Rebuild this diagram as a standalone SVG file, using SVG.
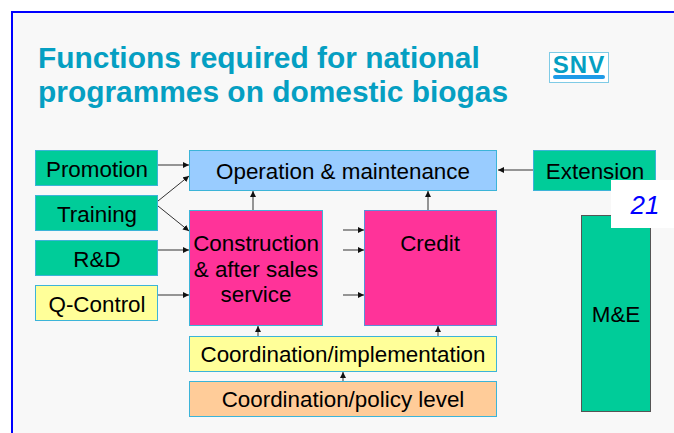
<svg xmlns="http://www.w3.org/2000/svg" width="674" height="433" viewBox="0 0 674 433">
<style>
text{font-family:"Liberation Sans",Arial,sans-serif;fill:#000;text-anchor:middle}
.l{font-size:22.400px}
.t{font-size:29.900px;font-weight:bold;fill:#059fc2;text-anchor:start}
.b{stroke:#3cb4d8;stroke-width:1}
.g{fill:#00cc99}.y{fill:#ffff99}.p{fill:#ff3399}
.c line{stroke:#333;stroke-width:1;marker-end:url(#a)}
</style>
<defs><marker id="a" markerUnits="userSpaceOnUse" markerWidth="7" markerHeight="6" refX="6" refY="3" orient="auto"><path d="M0 0L6 3L0 6z" fill="#111"/></marker></defs>
<rect width="674" height="433" fill="#fff"/>
<rect x="12" y="12" width="662" height="421" fill="#f8f8f8"/>
<path d="M674 12H12V433" fill="none" stroke="#0000ff" stroke-width="2"/>
<text class="t" x="38" y="68">Functions required for national</text>
<text class="t" x="38" y="102">programmes on domestic biogas</text>
<g id="logo"><rect x="549.500" y="52.500" width="59" height="30" fill="#fff" stroke="#7fcbe6"/><text x="579" y="73" style="font-size:24px;font-weight:bold;fill:#059fc2;letter-spacing:1px">SNV</text><rect x="553" y="75" width="52" height="4" rx="2" fill="#1e9be8"/></g>
<g class="c">
<line x1="158" y1="165" x2="189" y2="165"/>
<line x1="158" y1="201" x2="189" y2="176"/>
<line x1="158" y1="206" x2="189" y2="231"/>
<line x1="158" y1="250" x2="189" y2="250"/>
<line x1="158" y1="295" x2="189" y2="295"/>
<line x1="253" y1="210" x2="253" y2="191"/>
<line x1="428" y1="210" x2="428" y2="191"/>
<line x1="343" y1="230" x2="364" y2="230"/>
<line x1="343" y1="250" x2="364" y2="250"/>
<line x1="343" y1="295" x2="364" y2="295"/>
<line x1="534" y1="170" x2="498" y2="170"/>
<line x1="258" y1="336" x2="258" y2="326"/>
<line x1="438" y1="336" x2="438" y2="326"/>
<line x1="343" y1="381" x2="343" y2="372"/>
</g>
<g id="promotion"><rect class="b g" x="35.500" y="150.500" width="122" height="35"/><text class="l" x="97" y="177">Promotion</text></g>
<g id="training"><rect class="b g" x="35.500" y="195.500" width="122" height="35"/><text class="l" x="97" y="222">Training</text></g>
<g id="rd"><rect class="b g" x="35.500" y="240.500" width="122" height="35"/><text class="l" x="97" y="267">R&amp;D</text></g>
<g id="qcontrol"><rect class="b y" x="35.500" y="285.500" width="122" height="35"/><text class="l" x="97" y="312">Q-Control</text></g>
<g id="operation"><rect class="b" fill="#99ccff" x="189.500" y="150.500" width="307" height="40"/><text class="l" x="343" y="179">Operation &amp; maintenance</text></g>
<g id="construction"><rect class="b p" x="189.500" y="210.500" width="133" height="115"/><text class="l" x="256" y="251">Construction</text><text class="l" x="256" y="277">&amp; after sales</text><text class="l" x="256" y="302">service</text></g>
<g id="credit"><rect class="p" stroke="#5b8fd8" x="364.500" y="210.500" width="132" height="115"/><text class="l" x="430" y="251">Credit</text></g>
<g id="implementation"><rect class="b y" x="189.500" y="336.500" width="307" height="35"/><text class="l" x="343" y="362">Coordination/implementation</text></g>
<g id="policy"><rect class="b" fill="#ffcc99" x="189.500" y="381.500" width="307" height="35"/><text class="l" x="343" y="407">Coordination/policy level</text></g>
<g id="extension"><rect class="b g" x="533.500" y="150.500" width="122" height="40"/><text class="l" x="595" y="179">Extension</text></g>
<g id="me"><rect class="g" stroke="#555" x="581.500" y="215.500" width="69" height="196"/><text class="l" x="616" y="322">M&amp;E</text></g>
<g id="page"><rect x="611" y="180" width="63" height="48" fill="#fff"/><text x="645" y="214" style="font-size:26px;font-style:italic;fill:#0000ff">21</text></g>
</svg>
